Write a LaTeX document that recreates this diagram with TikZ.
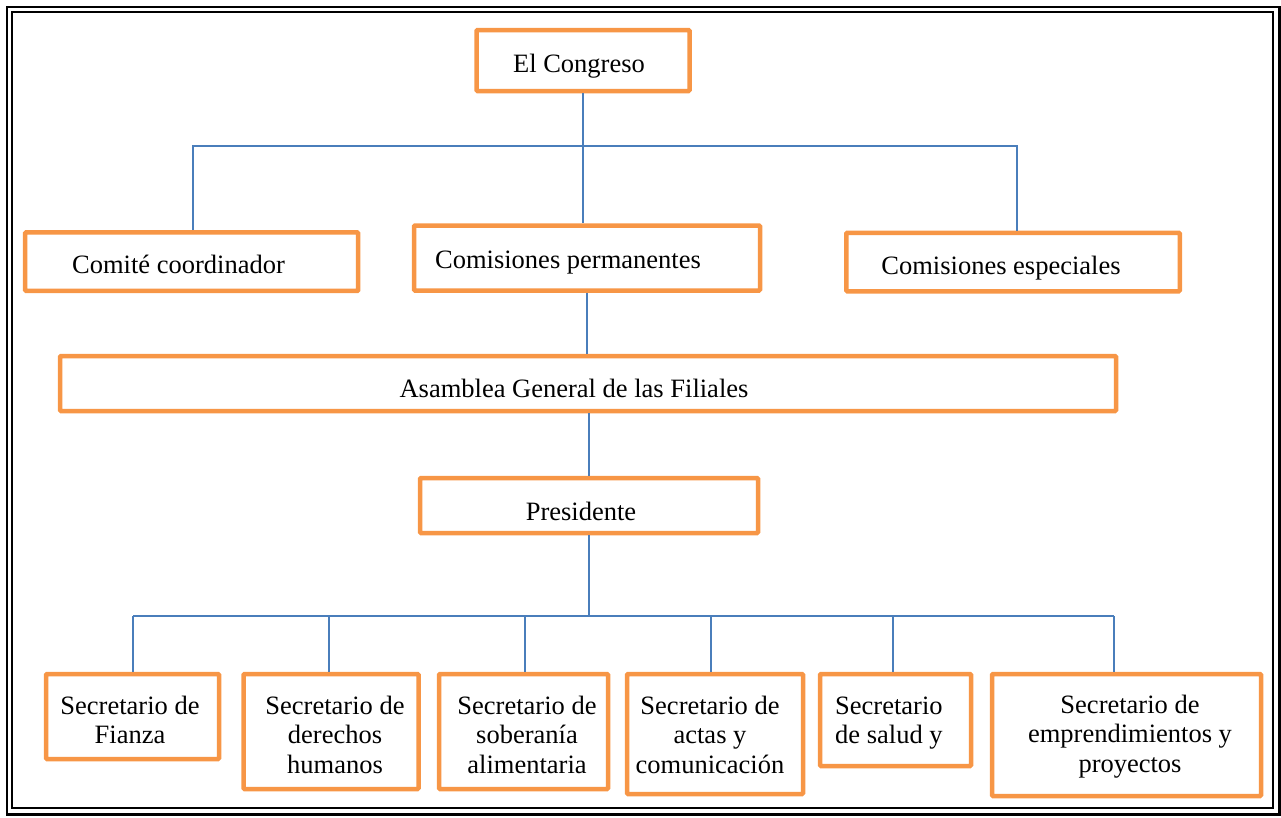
\documentclass[tikz,border=0pt]{standalone}
\usepackage{fontspec}
\setmainfont{Liberation Serif}
\definecolor{boxorange}{HTML}{F79646}
\definecolor{lineblue}{HTML}{4A7EBB}
\tikzset{
  orgbox/.style={draw=boxorange, line width=4.5pt, rectangle, rounded corners=1pt, inner sep=0pt, fill=white},
  conn/.style={draw=lineblue, line width=1.8pt},
  lbl/.style={font=\fontsize{26.5}{29.5}\selectfont, inner sep=0pt, anchor=base},
  lbll/.style={font=\fontsize{26.5}{29.5}\selectfont, inner sep=0pt, anchor=base west},
}
\newcommand{\mlc}[1]{\begin{tabular}[t]{@{}c@{}}#1\end{tabular}}
\newcommand{\mll}[1]{\begin{tabular}[t]{@{}l@{}}#1\end{tabular}}
\begin{document}
\begin{tikzpicture}[x=1pt,y=-1pt]
\useasboundingbox (0,0) rectangle (1281,817);
% frame
\draw[line width=2.5pt] (7,7) rectangle (1279.5,814.5);
\draw[line width=2pt] (11.5,12) rectangle (1273,807.5);

% junction coordinates
\coordinate (l1) at (193,146);
\coordinate (r1) at (1017,146);
\coordinate (b1) at (133,616);
\coordinate (b2) at (329,616);
\coordinate (b3) at (525,616);
\coordinate (b4) at (711,616);
\coordinate (b5) at (893,616);
\coordinate (b6) at (1114,616);

% boxes
\node[orgbox, minimum width=213pt, minimum height=61pt] (congreso) at (583,60.5) {};
\node[orgbox, minimum width=333pt, minimum height=58.5pt] (comite) at (191.7,261.7) {};
\node[orgbox, minimum width=346pt, minimum height=65pt] (perm) at (587,258) {};
\node[orgbox, minimum width=333.5pt, minimum height=58.5pt] (espec) at (1013,262) {};
\node[orgbox, minimum width=1056pt, minimum height=55pt] (asamblea) at (588,383.5) {};
\node[orgbox, minimum width=338pt, minimum height=55pt] (pres) at (589,505.5) {};
\node[orgbox, minimum width=173pt, minimum height=85pt] (s1) at (132.5,716.5) {};
\node[orgbox, minimum width=175pt, minimum height=115pt] (s2) at (331,731.5) {};
\node[orgbox, minimum width=169pt, minimum height=115pt] (s3) at (523.5,731.5) {};
\node[orgbox, minimum width=176pt, minimum height=120pt] (s4) at (715,734) {};
\node[orgbox, minimum width=151pt, minimum height=92pt] (s5) at (895.5,720) {};
\node[orgbox, minimum width=269pt, minimum height=122pt] (s6) at (1126.5,735) {};

% texts
\node[lbl] (tcongreso) at (579,72) {El Congreso};
\node[lbl] (tcomite) at (178.5,273) {Comité coordinador};
\node[lbl] (tperm) at (568,268) {Comisiones permanentes};
\node[lbl] (tespec) at (1001,274) {Comisiones especiales};
\node[lbl] (tasamblea) at (574,397) {Asamblea General de las Filiales};
\node[lbl] (tpres) at (581,520) {Presidente};
\node[lbl] (ts1) at (130,714) {\mlc{Secretario de\\Fianza}};
\node[lbl] (ts2) at (335,714) {\mlc{Secretario de\\derechos\\humanos}};
\node[lbl] (ts3) at (527,714) {\mlc{Secretario de\\soberanía\\alimentaria}};
\node[lbl] (ts4) at (710,714) {\mlc{Secretario de\\actas y\\comunicación}};
\node[lbll] (ts5) at (835,714) {\mll{Secretario\\de salud y}};
\node[lbl] (ts6) at (1130,713) {\mlc{Secretario de\\emprendimientos y\\proyectos}};

% connectors
\draw[conn] (congreso.south) -- (congreso.south |- perm.north);
\draw[conn] (comite.north -| l1) -- (l1) -- (r1) -- (r1 |- espec.north);
\draw[conn] (perm.south) -- (perm.south |- asamblea.north);
\draw[conn] (asamblea.south -| pres.north) -- (pres.north);
\draw[conn] (pres.south) -- (pres.south |- b1);
\draw[conn] (b1) -- (b6);
\draw[conn] (b1) -- (b1 |- s1.north);
\draw[conn] (b2) -- (b2 |- s2.north);
\draw[conn] (b3) -- (b3 |- s3.north);
\draw[conn] (b4) -- (b4 |- s4.north);
\draw[conn] (b5) -- (b5 |- s5.north);
\draw[conn] (b6) -- (b6 |- s6.north);
\end{tikzpicture}
\end{document}
